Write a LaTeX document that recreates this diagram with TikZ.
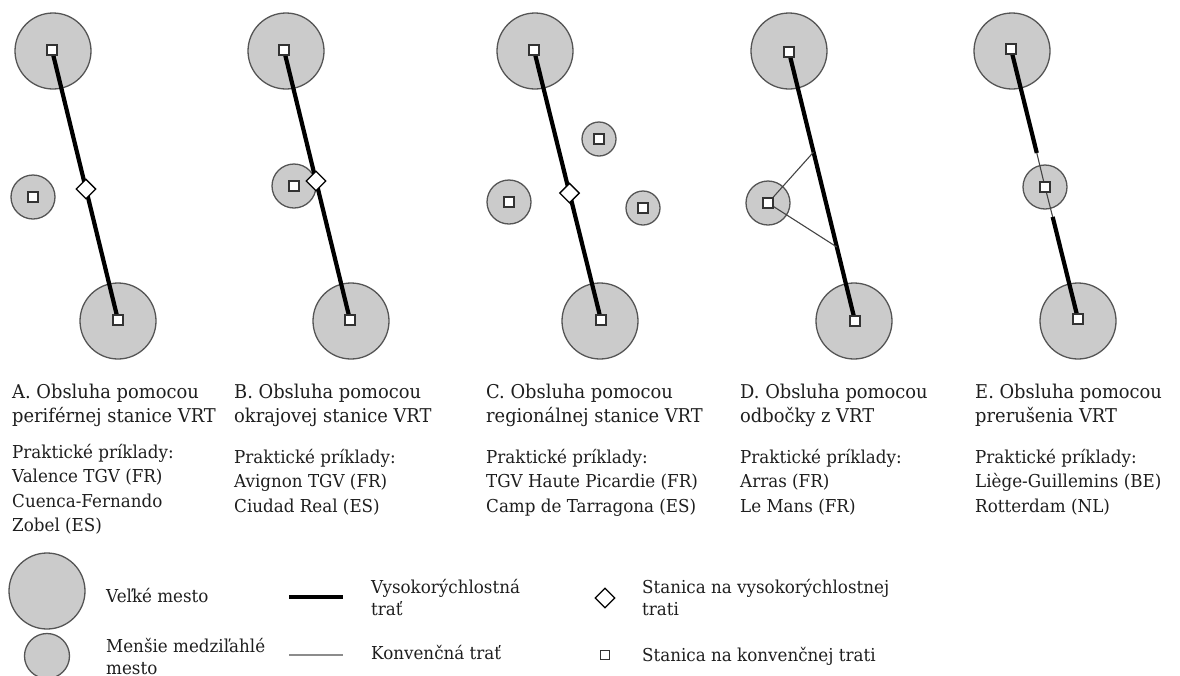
\documentclass[tikz,border=0pt]{standalone}
\usepackage{fontspec}
\setmainfont{DejaVu Serif}[FakeStretch=0.94]
\usetikzlibrary{shapes.geometric,calc}
\pgfdeclarelayer{cities}
\pgfdeclarelayer{tracks}
\pgfsetlayers{cities,tracks,main}
\definecolor{cityfill}{HTML}{CBCBCB}
\definecolor{cityline}{HTML}{555555}
\definecolor{convline}{HTML}{444444}
\definecolor{legconv}{HTML}{8C8C8C}
\definecolor{txt}{HTML}{1E1E1E}
\begin{document}
\begin{tikzpicture}[x=1pt,y=-1pt,
  bigcity/.style={circle,draw=cityline,fill=cityfill,line width=1.3pt,minimum size=76pt,inner sep=0pt},
  midcity/.style={circle,draw=cityline,fill=cityfill,line width=1.3pt,minimum size=44pt,inner sep=0pt},
  smallcity/.style={circle,draw=cityline,fill=cityfill,line width=1.3pt,minimum size=34pt,inner sep=0pt},
  convstation/.style={rectangle,draw=cityline!60!black,fill=white,line width=1.3pt,minimum size=10pt,inner sep=0pt},
  hsrstation/.style={diamond,draw=black,fill=white,line width=1.3pt,minimum size=20pt,inner sep=0pt},
  hsline/.style={line width=4.2pt,black},
  convtrack/.style={line width=1.1pt,convline},
  % multi-line texts are placed by the baseline of their last line
  titletext/.style={anchor=base west,align=left,inner sep=0pt,text=txt,font=\fontsize{19}{24}\selectfont},
  exampletext/.style={anchor=base west,align=left,inner sep=0pt,text=txt,font=\fontsize{17.8}{24.5}\selectfont},
  legendtext/.style={anchor=base west,align=left,inner sep=0pt,text=txt,font=\fontsize{17.8}{21.5}\selectfont}
]
\useasboundingbox (0,0) rectangle (1180,675);

% ---------- cities ----------
\begin{pgfonlayer}{cities}
  % A
  \node[bigcity] (Acn) at (53,51) {};
  \node[bigcity] (Acs) at (118,321) {};
  \node[midcity] (Acm) at (33,197) {};
  % B
  \node[bigcity] (Bcn) at (286,51) {};
  \node[bigcity] (Bcs) at (351,321) {};
  \node[midcity] (Bcm) at (294,186) {};
  % C
  \node[bigcity] (Ccn) at (535,51) {};
  \node[bigcity] (Ccs) at (600,321) {};
  \node[midcity] (Ccw) at (509,202) {};
  \node[smallcity] (Cct) at (599,139) {};
  \node[smallcity] (Cce) at (643,208) {};
  % D
  \node[bigcity] (Dcn) at (789,51) {};
  \node[bigcity] (Dcs) at (854,321) {};
  \node[midcity] (Dcm) at (768,203) {};
  % E
  \node[bigcity] (Ecn) at (1012,51) {};
  \node[bigcity] (Ecs) at (1078,321) {};
  \node[midcity] (Ecm) at (1045,187) {};
  % legend
  \node[bigcity] (Lbig) at (47,591) {};
  \node[midcity,minimum size=45pt] (Lmid) at (47,656) {};
\end{pgfonlayer}

% ---------- stations ----------
\node[convstation] (An) at (52,50) {};
\node[convstation] (As) at (118,320) {};
\node[convstation] (Am) at (33,197) {};
\node[hsrstation] (Ah) at ($(An)!0.515!(As)$) {};

\node[convstation] (Bn) at (284,50) {};
\node[convstation] (Bs) at (350,320) {};
\node[convstation] (Bm) at (294,186) {};
\node[hsrstation] (Bh) at ($(Bn)!0.485!(Bs)$) {};

\node[convstation] (Cn) at (534,50) {};
\node[convstation] (Cs) at (601,320) {};
\node[convstation] (Cw) at (509,202) {};
\node[convstation] (Ct) at (599,139) {};
\node[convstation] (Ce) at (643,208) {};
\node[hsrstation] (Ch) at ($(Cn)!0.53!(Cs)$) {};

\node[convstation] (Dn) at (789,52) {};
\node[convstation] (Ds) at (855,321) {};
\node[convstation] (Dm) at (768,203) {};
\coordinate (Dj1) at ($(Dn)!0.372!(Ds)$);
\coordinate (Dj2) at ($(Dn)!0.725!(Ds)$);

\node[convstation] (En) at (1011,49) {};
\node[convstation] (Es) at (1078,319) {};
\node[convstation] (Em) at (1045,187) {};
\coordinate (Eb1) at ($(En)!0.385!(Es)$);
\coordinate (Eb2) at ($(En)!0.622!(Es)$);

\node[hsrstation] (Lh) at (605,598) {};
\node[convstation,minimum size=9pt] (Lc) at (605,655) {};

% ---------- tracks ----------
\begin{pgfonlayer}{tracks}
  \draw[hsline] (An.center) -- (As.center);
  \draw[hsline] (Bn.center) -- (Bs.center);
  \draw[hsline] (Cn.center) -- (Cs.center);
  \draw[hsline] (Dn.center) -- (Ds.center);
  \draw[convtrack] (Dj1) -- (Dm.center) -- (Dj2);
  \draw[hsline] (En.center) -- (Eb1);
  \draw[convtrack] (Eb1) -- (Em.center) -- (Eb2);
  \draw[hsline] (Eb2) -- (Es.center);
  % legend lines
  \coordinate (Lh1) at (289,597);
  \coordinate (Lh2) at (343,597);
  \coordinate (Lc1) at (289,655);
  \coordinate (Lc2) at (343,655);
  \draw[hsline,line width=4.5pt] (Lh1) -- (Lh2);
  \draw[line width=1.8pt,legconv] (Lc1) -- (Lc2);
\end{pgfonlayer}

% ---------- captions ----------
\node[titletext] (At) at (12,422) {A. Obsluha pomocou\\periférnej stanice VRT};
\node[titletext] (Bt) at (234,422) {B. Obsluha pomocou\\okrajovej stanice VRT};
\node[titletext] (Ct) at (486,422) {C. Obsluha pomocou\\regionálnej stanice VRT};
\node[titletext] (Dt) at (740,422) {D. Obsluha pomocou\\odbočky z VRT};
\node[titletext] (Et) at (975,422) {E. Obsluha pomocou\\prerušenia VRT};

\node[exampletext] (Ax) at (12,531.5) {Praktické príklady:\\Valence TGV (FR)\\Cuenca-Fernando\\Zobel (ES)};
\node[exampletext] (Bx) at (234,512) {Praktické príklady:\\Avignon TGV (FR)\\Ciudad Real (ES)};
\node[exampletext] (Cx) at (486,512) {Praktické príklady:\\TGV Haute Picardie (FR)\\Camp de Tarragona (ES)};
\node[exampletext] (Dx) at (740,512) {Praktické príklady:\\Arras (FR)\\Le Mans (FR)};
\node[exampletext] (Ex) at (975,512) {Praktické príklady:\\Liège-Guillemins (BE)\\Rotterdam (NL)};

% ---------- legend ----------
\node[legendtext] (Lt1) at (106,602) {Veľké mesto};
\node[legendtext] (Lt2) at (106,674) {Menšie medziľahlé\\mesto};
\node[legendtext] (Lt3) at (371,615) {Vysokorýchlostná\\trať};
\node[legendtext] (Lt4) at (371,659) {Konvenčná trať};
\node[legendtext] (Lt5) at (642,615) {Stanica na vysokorýchlostnej\\trati};
\node[legendtext] (Lt6) at (642,661) {Stanica na konvenčnej trati};
\end{tikzpicture}
\end{document}
